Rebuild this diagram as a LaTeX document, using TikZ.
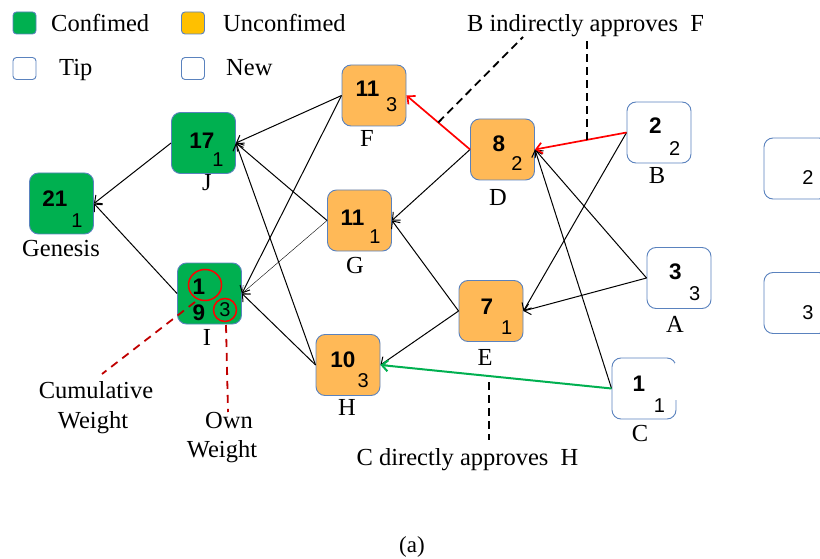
\documentclass[tikz,border=0pt]{standalone}
\usepackage{fontspec}
\setmainfont{Liberation Serif}
\newfontfamily\numfont{Liberation Sans}
\usetikzlibrary{arrows.meta,calc}
\definecolor{conf}{HTML}{00B050}
\definecolor{unconf}{HTML}{FFB957}
\definecolor{legunconf}{HTML}{FFC000}
\definecolor{rim}{HTML}{5A82BE}
\definecolor{cuered}{HTML}{C00000}
\begin{document}
\begin{tikzpicture}[x=1pt,y=-1pt,
  tx/.style={draw=rim, line width=0.9pt, rounded corners=9pt,
    minimum width=64pt, minimum height=61pt, inner sep=0pt},
  legbox/.style={draw=rim, line width=0.9pt, rounded corners=3.5pt,
    minimum width=23pt, minimum height=22pt, inner sep=0pt},
  cw/.style={font=\numfont\bfseries\fontsize{22.5}{26}\selectfont, inner sep=0pt},
  ow/.style={font=\numfont\fontsize{20}{23}\selectfont, inner sep=0pt},
  lbl/.style={font=\fontsize{24.5}{28}\selectfont, inner sep=0pt, anchor=base},
  edge/.style={line width=1pt, -{Straight Barb[length=6pt,width=11pt]}},
  hot/.style={edge, draw=red, line width=1.7pt},
  note/.style={line width=1.8pt, dash pattern=on 8pt off 5pt},
  cue/.style={draw=cuered, line width=1.8pt, dash pattern=on 8pt off 6pt},
]
\clip (0,0) rectangle (820,559);

% legend
\node[legbox, fill=conf] (lgConf) at (24.5,23) {};
\node[legbox, fill=legunconf] (lgUnconf) at (193,23) {};
\node[legbox, fill=white] (lgTip) at (24.5,68.5) {};
\node[legbox, fill=white] (lgNew) at (193,68.5) {};
\node[lbl, anchor=base west] (tConf) at (51,32) {Confimed};
\node[lbl, anchor=base west] (tUnconf) at (223,32) {Unconfimed};
\node[lbl, anchor=base west] (tTip) at (59,76) {Tip};
\node[lbl, anchor=base west] (tNew) at (226,76) {New};

% transactions
\node[tx, fill=conf] (Gen) at (61.5,203.5) {};
\node[tx, fill=conf] (J) at (203.5,143) {};
\node[tx, fill=conf] (I) at (209.5,293.5) {};
\node[tx, fill=unconf] (F) at (374,95.5) {};
\node[tx, fill=unconf] (G) at (359.5,220.5) {};
\node[tx, fill=unconf] (H) at (348,365) {};
\node[tx, fill=unconf] (D) at (502.5,149.5) {};
\node[tx, fill=unconf] (E) at (491,311) {};
\node[tx, fill=white] (B) at (659,132.5) {};
\node[tx, fill=white] (A) at (679,278) {};
\node[tx, fill=white] (C) at (644,388.5) {};
\node[tx, fill=white] (N1) at (796,168.5) {};
\node[tx, fill=white] (N2) at (796,303) {};
% open right side of C
\fill[white] ($(C.east)+(-1.5,-25.5)$) rectangle ($(C.east)+(2,11.5)$);

% weights: cumulative (bold) and own (small)
\path (Gen.center) ++(-6.5,-4.5) node[cw] {21};
\path (Gen.center) ++(15.5,17) node[ow] {1};
\path (J.center) ++(-1.5,-2.5) node[cw] {17};
\path (J.center) ++(14.5,17) node[ow] {1};
\path (I.center) ++(-10.5,-6.5) node[cw] {1};
\path (I.center) ++(-10.5,19.5) node[cw] {9};
\path (I.center) ++(15.5,16.5) node[ow] {3};
\path (F.center) ++(-6.5,-7) node[cw] {11};
\path (F.center) ++(17.7,9.5) node[ow] {3};
\path (G.center) ++(-7,-3) node[cw] {11};
\path (G.center) ++(15.5,16) node[ow] {1};
\path (H.center) ++(-5,-5.5) node[cw] {10};
\path (H.center) ++(15.3,15.5) node[ow] {3};
\path (D.center) ++(-3.5,-5.5) node[cw] {8};
\path (D.center) ++(14.5,14.5) node[ow] {2};
\path (E.center) ++(-4,-4.5) node[cw] {7};
\path (E.center) ++(15.7,17) node[ow] {1};
\path (B.center) ++(-3.5,-7) node[cw] {2};
\path (B.center) ++(15.7,16.5) node[ow] {2};
\path (A.center) ++(-3.5,-6.3) node[cw] {3};
\path (A.center) ++(15.7,16) node[ow] {3};
\path (C.center) ++(-5,-4.5) node[cw] {1};
\path (C.center) ++(15.5,17) node[ow] {1};
\path (N1.center) ++(12,9.5) node[ow] {2};
\path (N2.center) ++(12,10) node[ow] {3};

% markers on I
\draw[red, line width=1.5pt] (205,285) ellipse [x radius=16.5pt, y radius=15.5pt];
\draw[red, line width=1.5pt] (225,310) circle [radius=11.5pt];

% names
\node[lbl] (lGen) at (61,256) {Genesis};
\node[lbl] (lJ) at (207,191) {J};
\node[lbl] (lF) at (367,147) {F};
\node[lbl] (lG) at (355,273) {G};
\node[lbl] (lI) at (207,345) {I};
\node[lbl] (lH) at (347,415) {H};
\node[lbl] (lD) at (498,205) {D};
\node[lbl] (lE) at (485,365) {E};
\node[lbl] (lB) at (657,184) {B};
\node[lbl] (lA) at (675,332) {A};
\node[lbl] (lC) at (640,441) {C};

% approvals
\draw[edge] (J.west) -- (Gen.east);
\draw[edge] (I.west) -- (Gen.east);
\draw[edge] (F.west) -- (J.east);
\draw[edge] (G.west) -- (J.east);
\draw[edge] (H.west) -- (J.east);
\draw[edge] (F.west) -- (I.east);
\draw[edge, line width=0.4pt] (G.west) -- (I.east);
\draw[edge] (H.west) -- (I.east);
\draw[edge] (D.west) -- (G.east);
\draw[edge] (E.west) -- (G.east);
\draw[edge] (E.west) -- (H.east);
\draw[edge] (B.west) -- (E.east);
\draw[edge] (A.west) -- (D.east);
\draw[edge] (A.west) -- (E.east);
\draw[edge] (C.west) -- (D.east);
\draw[hot] (D.west) -- (F.east);
\draw[hot] (B.west) -- (D.east);
\draw[edge, draw=conf, line width=2pt] (C.west) -- (H.east);

% annotations
\node[lbl, anchor=base west] (noteB) at (467,32) {B indirectly approves\ \ F};
\coordinate (pDF) at ($(D.west)!0.5!(F.east)$);
\coordinate (qDF) at (523,37);
\draw[note] (pDF) -- (qDF);
\coordinate (pBD) at ($(B.west)!0.43!(D.east)$);
\coordinate (qBD) at (587,38);
\draw[note] (pBD) -- (pBD |- qBD);

\node[lbl] (noteC) at (467.5,465) {C directly approves\ \ H};
\coordinate (pCH) at (489,382);
\coordinate (qCH) at (489,440);
\draw[note] (pCH) -- (qCH);

\node[lbl] (cum1) at (96,398) {Cumulative};
\node[lbl] (cum2) at (93,428) {Weight};
\node[lbl] (own1) at (229,428) {Own};
\node[lbl] (own2) at (222,457) {Weight};
\coordinate (pCum) at (195,302);
\coordinate (qCum) at (102,374);
\draw[cue] (pCum) -- (qCum);
\coordinate (pOwn) at (226,325);
\coordinate (qOwn) at (228,412);
\draw[cue] (pOwn) -- (qOwn);

\node[font=\fontsize{23}{26}\selectfont, inner sep=0pt] (cap) at (412,547) {(a)};
\end{tikzpicture}
\end{document}
